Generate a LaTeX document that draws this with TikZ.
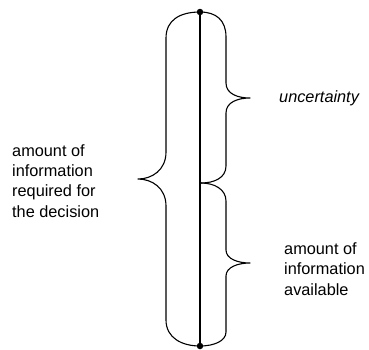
\documentclass[tikz,border=0pt]{standalone}
\usepackage{fontspec}
\setmainfont{Liberation Sans}
\begin{document}
\begin{tikzpicture}[x=1pt,y=-1pt,
  brace/.style={line width=1.1pt, line join=round},
  axis/.style={line width=1.8pt},
  dot/.style={circle, fill=black, inner sep=0pt, minimum size=6.5pt},
  lbl/.style={font=\fontsize{16.3}{20.3}\selectfont, align=left, inner sep=0pt, anchor=base west}]
\useasboundingbox (0,0) rectangle (369,349);
\node[dot] (top) at (200,12) {};
\node[dot] (bot) at (200,346) {};
\coordinate (mid) at (201,183);
\draw[axis] (top.center) -- (bot.center);
% left brace
\draw[brace] (top.center) .. controls (180,12) and (166,20) .. (166,38)
  -- (166,152) .. controls (166,170) and (152,179) .. (138,179)
  .. controls (152,179) and (166,188) .. (166,206)
  -- (166,320) .. controls (166,338) and (182,346) .. (bot.center);
% right upper brace
\draw[brace] (top.center) .. controls (216,12) and (226,20) .. (226,37)
  -- (226,83) .. controls (226,94) and (238,98) .. (250,98)
  .. controls (238,98) and (226,102) .. (226,113)
  -- (226,166) .. controls (226,178) and (214,183) .. (mid);
% right lower brace
\draw[brace] (mid) .. controls (214,183) and (226,189) .. (226,201)
  -- (226,250) .. controls (226,259) and (238,263) .. (250,263)
  .. controls (238,263) and (226,267) .. (226,276)
  -- (226,332) .. controls (226,341) and (214,346) .. (bot.center);
\node[lbl] (req) at (12,217) {amount of\\information\\required for\\the decision};
\node[lbl, font=\fontsize{16.3}{20.3}\selectfont\itshape] (unc) at (279,102) {uncertainty};
\node[lbl] (avail) at (284,295) {amount of\\information\\available};
\end{tikzpicture}
\end{document}
